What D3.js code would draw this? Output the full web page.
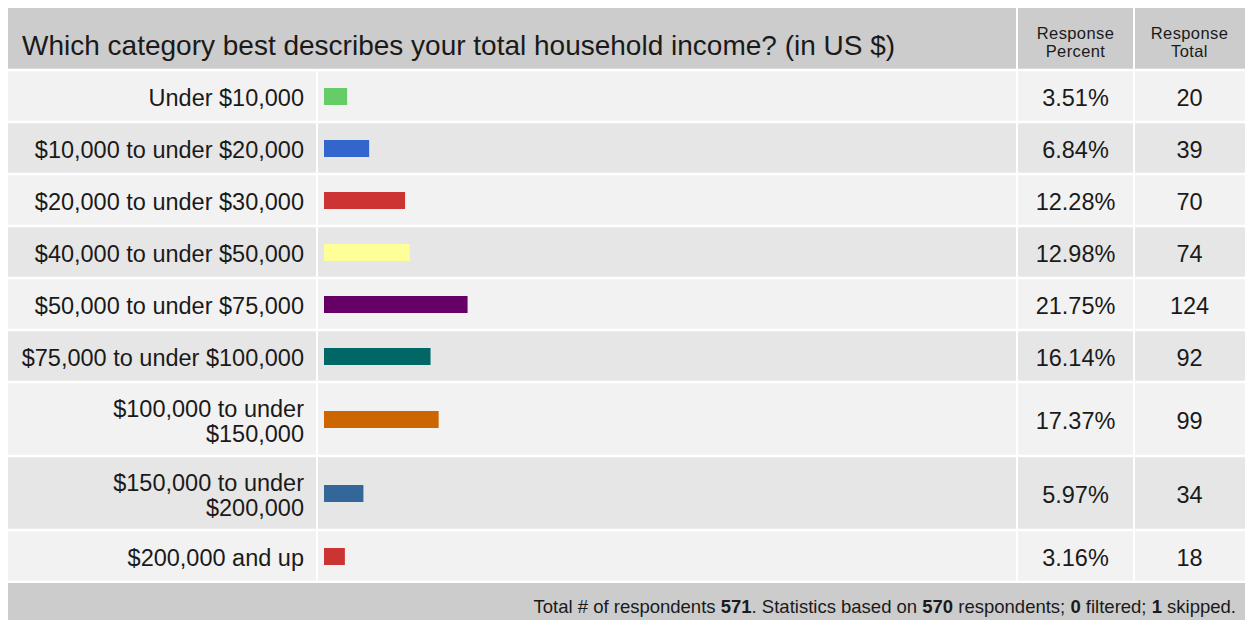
<!DOCTYPE html>
<html><head><meta charset="utf-8">
<script src="https://cdn.jsdelivr.net/npm/d3@7"></script>
<style>body{margin:0;background:#fff}svg{display:block}</style>
</head><body>
<svg id="c" width="1245" height="620"></svg>
<script>
const categories = [
  ["Under $10,000"],
  ["$10,000 to under $20,000"],
  ["$20,000 to under $30,000"],
  ["$40,000 to under $50,000"],
  ["$50,000 to under $75,000"],
  ["$75,000 to under $100,000"],
  ["$100,000 to under", "$150,000"],
  ["$150,000 to under", "$200,000"],
  ["$200,000 and up"]
];
const percents = [3.51, 6.84, 12.28, 12.98, 21.75, 16.14, 17.37, 5.97, 3.16];
const totals = [20, 39, 70, 74, 124, 92, 99, 34, 18];
const colors = ["#66cc66", "#3366cc", "#cc3333", "#ffff99", "#660066", "#006666", "#cc6600", "#336699", "#cc3333"];
const title = "Which category best describes your total household income? (in US $)";
const colHeads = [["Response", "Percent"], ["Response", "Total"]];
const footer = [["Total # of respondents ", false], ["571", true], [". Statistics based on ", false], ["570", true], [" respondents; ", false], ["0", true], [" filtered; ", false], ["1", true], [" skipped.", false]];

const svg = d3.select("#c");
const font = "'Liberation Sans', Arial, sans-serif";
const ink = "#1a1a1a";
const L = 8, R = 1245, c1 = 317, c2 = 1017, c3 = 1134;
const headTop = 8, headBot = 70;

// header
svg.append("rect").attr("x", L).attr("y", headTop).attr("width", R - L).attr("height", headBot - headTop).attr("fill", "#cccccc");
svg.append("text").attr("x", 22).attr("y", 55).attr("font-family", font).attr("font-size", 28).attr("fill", ink).text(title);
[[c2, c3], [c3, R]].forEach((c, i) => {
  colHeads[i].forEach((s, j) => svg.append("text").attr("font-family", font)
    .attr("font-size", 16.5).attr("fill", ink).attr("text-anchor", "middle").attr("letter-spacing", 0.4)
    .attr("x", (c[0] + c[1]) / 2).attr("y", 38.5 + j * 18.5).text(s));
});

// rows
const rowH = categories.map(c => c.length > 1 ? 74 : 52);
const rowY = [];
rowH.reduce((acc, h, i) => { rowY[i] = acc; return acc + h; }, headBot);
const x = d3.scaleLinear().domain([0, 100]).range([0, 660]);
const barX = 324;
const fs = 23.5;

const g = svg.append("g");
categories.forEach((cat, i) => {
  const y0 = rowY[i], h = rowH[i];
  g.append("rect").attr("x", L).attr("y", y0).attr("width", R - L).attr("height", h)
    .attr("fill", i % 2 === 0 ? "#f2f2f2" : "#e6e6e6");
  const cy = y0 + h / 2;
  const t = g.append("text").attr("font-family", font).attr("font-size", fs).attr("fill", ink).attr("text-anchor", "end");
  const n = cat.length;
  cat.forEach((s, j) => t.append("tspan").attr("x", 304).attr("y", cy + 10 + (j - (n - 1) / 2) * 25).text(s));
  g.append("rect").attr("x", barX).attr("y", cy - 8).attr("width", x(percents[i])).attr("height", 17).attr("fill", colors[i]);
  g.append("text").attr("x", (c2 + c3) / 2).attr("y", cy + 10).attr("font-family", font).attr("font-size", fs)
    .attr("fill", ink).attr("text-anchor", "middle").text(percents[i].toFixed(2) + "%");
  g.append("text").attr("x", (c3 + R) / 2).attr("y", cy + 10).attr("font-family", font).attr("font-size", fs)
    .attr("fill", ink).attr("text-anchor", "middle").text(totals[i]);
});
const bodyBot = rowY[rowY.length - 1] + rowH[rowH.length - 1];
// separators
rowY.slice(1).concat([bodyBot]).forEach(y => svg.append("line").attr("x1", L).attr("x2", R).attr("y1", y).attr("y2", y).attr("stroke", "#fff").attr("stroke-width", 2.5));
svg.append("line").attr("x1", L).attr("x2", R).attr("y1", headBot).attr("y2", headBot).attr("stroke", "#fff").attr("stroke-width", 2.5);
[c1].forEach(cx => svg.append("line").attr("x1", cx).attr("x2", cx).attr("y1", headBot).attr("y2", bodyBot).attr("stroke", "#fff").attr("stroke-width", 2));
[c2, c3].forEach(cx => svg.append("line").attr("x1", cx).attr("x2", cx).attr("y1", headTop).attr("y2", bodyBot).attr("stroke", "#fff").attr("stroke-width", 2));

// footer
svg.append("rect").attr("x", L).attr("y", bodyBot + 1).attr("width", R - L).attr("height", 620 - bodyBot).attr("fill", "#cccccc");
const ft = svg.append("text").attr("x", 1236).attr("y", 613).attr("font-family", font)
  .attr("font-size", 18.5).attr("fill", ink).attr("text-anchor", "end");
footer.forEach(([s, b]) => ft.append("tspan").attr("font-weight", b ? "bold" : "normal").text(s));
</script>
</body></html>
